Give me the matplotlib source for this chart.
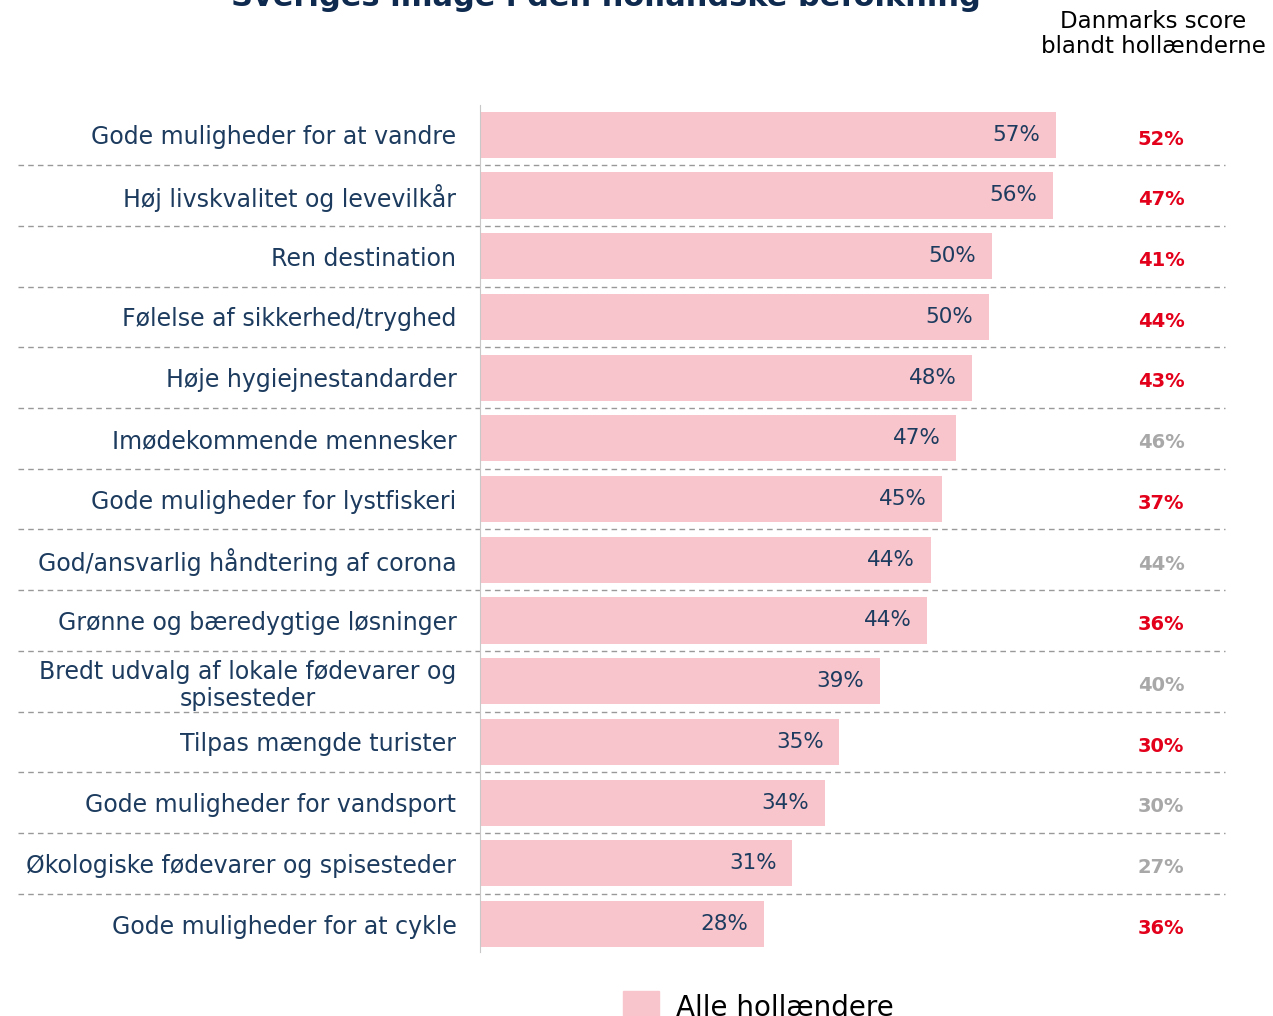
import matplotlib.pyplot as plt
from matplotlib.patches import Patch

# data
categories = [
    "Gode muligheder for at vandre",
    "Høj livskvalitet og levevilkår",
    "Ren destination",
    "Følelse af sikkerhed/tryghed",
    "Høje hygiejnestandarder",
    "Imødekommende mennesker",
    "Gode muligheder for lystfiskeri",
    "God/ansvarlig håndtering af corona",
    "Grønne og bæredygtige løsninger",
    "Bredt udvalg af lokale fødevarer og\nspisesteder",
    "Tilpas mængde turister",
    "Gode muligheder for vandsport",
    "Økologiske fødevarer og spisesteder",
    "Gode muligheder for at cykle",
]
sweden = [56.6, 56.3, 50.3, 50.0, 48.4, 46.8, 45.4, 44.3, 44.0, 39.3, 35.3, 33.9, 30.7, 27.9]
denmark = [52, 47, 41, 44, 43, 46, 37, 44, 36, 40, 30, 30, 27, 36]
denmark_sig = [True, True, True, True, True, False, True, False, True, False, True, False, False, True]

navy = "#1c3b5e"
pink = "#f8c5cc"
red = "#e3001b"
grey = "#a8a8a8"

fig = plt.figure(figsize=(12.73, 10.16), dpi=100)
ax = fig.add_axes([480 / 1273, 1 - 952 / 1016, 745 / 1273, 847 / 1016])

y = list(range(len(categories)))
ax.barh(y, sweden, height=0.76, color=pink)
ax.set_xlim(0, 745 / 10.17)
ax.set_ylim(len(categories) - 0.54, -0.49)

# value labels inside bars
for i, v in enumerate(sweden):
    ax.text(v - 1.5, i, f"{v:.0f}%", ha="right", va="center", fontsize=15.5, color=navy)

# Denmark column
for i, (d, sig) in enumerate(zip(denmark, denmark_sig)):
    ax.text((1161 - 480) / 10.17, i + 0.07, f"{d}%", ha="center", va="center",
            fontsize=14, fontweight="bold", color=red if sig else grey)

# dashed separators
trans = ax.get_yaxis_transform()
for i in range(len(categories) - 1):
    ax.plot([-462 / 745, 1.0], [i + 0.5, i + 0.5], transform=trans, clip_on=False,
            color="#999999", lw=1, dashes=(4, 3))

ax.set_yticks(y)
ax.set_yticklabels(categories, fontsize=17, color=navy)
for lab in ax.get_yticklabels():
    lab.set_multialignment("center")
    lab.set_linespacing(1.15)
ax.tick_params(axis="y", length=0, pad=17)
ax.set_xticks([])
for s in ["top", "right", "bottom"]:
    ax.spines[s].set_visible(False)
ax.spines["left"].set_color("#c8c8c8")

# title (cut off at top in the source)
fig.text(606 / 1273, 1 - 6 / 1016, "Sveriges image i den hollandske befolkning",
         ha="center", va="baseline", fontsize=22, fontweight="bold", color="#0f2a4f")

fig.text(1153 / 1273, 1 - 34 / 1016, "Danmarks score\nblandt hollænderne",
         ha="center", va="center", fontsize=16.5, color="black", linespacing=1.15)

fig.legend(handles=[Patch(color=pink)], labels=["Alle hollændere"],
           loc="upper left", bbox_to_anchor=(598 / 1273, 1 - 966 / 1016),
           frameon=False, fontsize=20, handlelength=1.3, handleheight=1.4,
           handletextpad=0.6)

fig.savefig("out.png", dpi=100)
